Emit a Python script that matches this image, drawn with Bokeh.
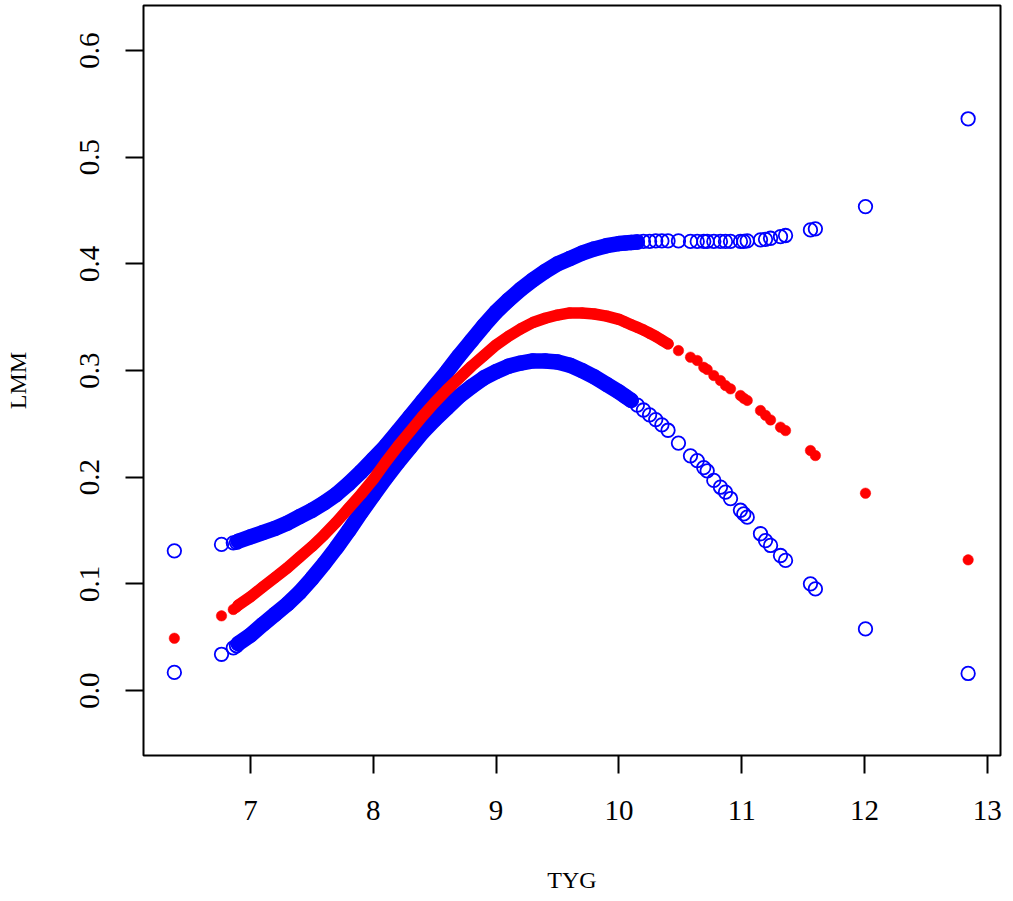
import numpy as np
from bokeh.plotting import figure
from bokeh.models import Range1d, FixedTicker, PrintfTickFormatter
from bokeh.embed import file_html
from bokeh.resources import INLINE

# ---- data ----
tyg = [6.38, 6.764, 6.86, 6.886,
       6.9, 7.0, 7.1, 7.2, 7.3, 7.4, 7.5, 7.6, 7.7, 7.8, 7.9, 8.0, 8.1, 8.2, 8.3,
       8.4, 8.5, 8.6, 8.7, 8.8, 8.9, 9.0, 9.1, 9.2, 9.3, 9.4, 9.5, 9.6, 9.7, 9.8,
       9.9, 10.0,
       10.05, 10.1, 10.15, 10.2, 10.25, 10.3, 10.35, 10.4,
       10.485, 10.583, 10.638, 10.691, 10.719, 10.773, 10.827, 10.868, 10.909,
       10.990, 11.017, 11.045, 11.153, 11.194, 11.235, 11.316, 11.357, 11.560,
       11.600, 12.008, 12.844]

lmm_upper = [0.131, 0.137, 0.1385, 0.139,
             0.140, 0.144, 0.148, 0.152, 0.157, 0.163, 0.169, 0.176, 0.184, 0.194,
             0.205, 0.217, 0.229, 0.243, 0.257, 0.271, 0.285, 0.299, 0.314, 0.328,
             0.342, 0.355, 0.366, 0.376, 0.385, 0.393, 0.400, 0.405, 0.410, 0.414,
             0.417, 0.419,
             0.4195, 0.420, 0.4205, 0.421, 0.421, 0.4215, 0.4215, 0.4215,
             0.4215, 0.421, 0.421, 0.421, 0.421, 0.421, 0.421, 0.421, 0.421,
             0.421, 0.421, 0.4215, 0.4225, 0.423, 0.424, 0.4255, 0.4266, 0.4318,
             0.4328, 0.4537, 0.536]

lmm_fit = [0.049, 0.070, 0.076, 0.078,
           0.080, 0.088, 0.097, 0.106, 0.115, 0.125, 0.135, 0.146, 0.158, 0.171,
           0.184, 0.198, 0.214, 0.229, 0.243, 0.257, 0.270, 0.282, 0.293, 0.304,
           0.314, 0.324, 0.332, 0.339, 0.345, 0.349, 0.352, 0.354, 0.354, 0.353,
           0.351, 0.348,
           0.3455, 0.343, 0.3405, 0.338, 0.335, 0.332, 0.3285, 0.325,
           0.3187, 0.3125, 0.3094, 0.303, 0.301, 0.2953, 0.2906, 0.286, 0.2828,
           0.2766, 0.274, 0.272, 0.2625, 0.258, 0.2537, 0.2469, 0.2437, 0.225,
           0.2203, 0.185, 0.1225]

lmm_lower = [0.017, 0.034, 0.040, 0.042,
             0.044, 0.052, 0.062, 0.0715, 0.081, 0.092, 0.105, 0.119, 0.134, 0.150,
             0.167, 0.183, 0.199, 0.214, 0.228, 0.242, 0.254, 0.265, 0.276, 0.285,
             0.293, 0.299, 0.304, 0.307, 0.309, 0.309, 0.308, 0.305, 0.300, 0.294,
             0.287, 0.280,
             0.276, 0.272, 0.2675, 0.263, 0.2585, 0.254, 0.249, 0.244,
             0.232, 0.220, 0.2156, 0.209, 0.206, 0.197, 0.1906, 0.186, 0.180,
             0.169, 0.1656, 0.1625, 0.147, 0.1406, 0.136, 0.1266, 0.122, 0.100,
             0.0953, 0.0578, 0.016]

x_ticks = [7, 8, 9, 10, 11, 12, 13]
y_ticks = [0.0, 0.1, 0.2, 0.3, 0.4, 0.5, 0.6]
x_label = "TYG"
y_label = "LMM"

# x-range where the observations are so dense that the markers merge
dense_start = 6.9
upper_dense_end = 10.15
fit_dense_end = 10.4
lower_dense_end = 10.1

BLUE = "#0000FF"
RED = "#FF0000"
FONT = "Liberation Serif"

x = np.array(tyg)
up = np.array(lmm_upper)
fit = np.array(lmm_fit)
lo = np.array(lmm_lower)

p = figure(width=1008, height=895, output_backend="svg", toolbar_location=None,
           x_range=Range1d(6.1287, 13.1075), y_range=Range1d(-0.0609, 0.6422),
           min_border_left=143, min_border_right=8, min_border_top=5,
           min_border_bottom=140)

p.background_fill_color = "white"
p.border_fill_color = "white"
p.outline_line_color = "black"
p.outline_line_width = 2
p.xgrid.visible = False
p.ygrid.visible = False

def seg(end):
    return (x >= dense_start) & (x <= end)

# blue confidence bands
m = seg(upper_dense_end)
p.line(x[m], up[m], line_color=BLUE, line_width=15.5, line_cap="round", line_join="round")
m = seg(lower_dense_end)
p.line(x[m], lo[m], line_color=BLUE, line_width=15.5, line_cap="round", line_join="round")
p.scatter(x, up, marker="circle", size=13.5, fill_color=None, line_color=BLUE, line_width=1.8)
p.scatter(x, lo, marker="circle", size=13.5, fill_color=None, line_color=BLUE, line_width=1.8)

# red fitted values
m = seg(fit_dense_end)
p.line(x[m], fit[m], line_color=RED, line_width=11.5, line_cap="round", line_join="round")
p.scatter(x, fit, marker="circle", size=10.5, fill_color=RED, line_color=RED, line_width=0.5)

# axes
for ax, ticks, fmt in ((p.xaxis[0], x_ticks, "%d"), (p.yaxis[0], y_ticks, "%.1f")):
    ax.ticker = FixedTicker(ticks=ticks)
    ax.formatter = PrintfTickFormatter(format=fmt)
    ax.axis_line_color = None
    ax.major_tick_line_color = "black"
    ax.major_tick_line_width = 2
    ax.major_tick_out = 18
    ax.major_tick_in = 0
    ax.minor_tick_line_color = None
    ax.major_label_text_font = FONT
    ax.major_label_text_font_size = "29px"
    ax.major_label_text_color = "black"
    ax.axis_label_text_font = FONT
    ax.axis_label_text_font_size = "24px"
    ax.axis_label_text_font_style = "normal"
    ax.axis_label_text_color = "black"

p.xaxis.axis_label = x_label
p.yaxis.axis_label = y_label
p.yaxis.major_label_orientation = "vertical"
p.xaxis.major_label_standoff = 27
p.xaxis.axis_label_standoff = 44
p.yaxis.major_label_standoff = 26
p.yaxis.axis_label_standoff = 47

open("out.html", "w").write(file_html(p, INLINE))
